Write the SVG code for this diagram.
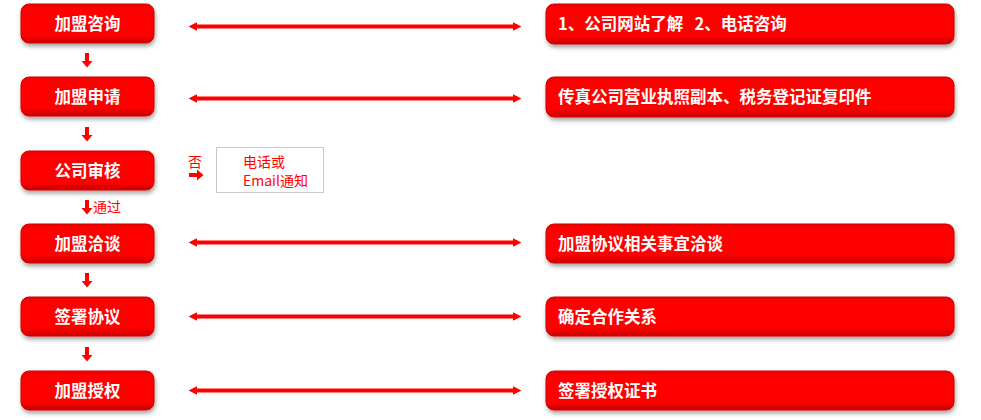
<svg xmlns="http://www.w3.org/2000/svg" width="981" height="420" viewBox="0 0 981 420">
<style>
.box{fill:url(#g);stroke:#d00000;stroke-width:1;filter:url(#sh)}
.t{font-family:"Noto Sans CJK SC","Liberation Sans",sans-serif;font-size:16.5px;font-weight:bold;fill:#fff}
.tl{text-anchor:middle}
.c{stroke:#ff0000;stroke-width:4;fill:none;marker-start:url(#ah);marker-end:url(#ah)}
.r{fill:#ff0000}
.s{font-family:"Noto Sans CJK SC","Liberation Sans",sans-serif;font-size:14px;fill:#ff0000}
</style>
<defs>
<linearGradient id="g" x1="0" y1="0" x2="0" y2="1">
<stop offset="0" stop-color="#f00000"/>
<stop offset="0.15" stop-color="#ff0000"/>
<stop offset="0.8" stop-color="#ff0000"/>
<stop offset="1" stop-color="#c80000"/>
</linearGradient>
<filter id="sh" x="-10%" y="-20%" width="120%" height="150%">
<feDropShadow dx="1" dy="3" stdDeviation="2" flood-color="#000" flood-opacity="0.35"/>
</filter>
<marker id="ah" viewBox="0 0 10 10" refX="5" refY="5" markerWidth="2.2" markerHeight="2.6" orient="auto-start-reverse" markerUnits="strokeWidth">
<path d="M0,0 L10,5 L0,10 Z" fill="#ff0000"/>
</marker>
</defs>
<rect width="981" height="420" fill="#fff"/>

<g id="connectors">
<line class="c" x1="193" y1="26.5" x2="517" y2="26.5"/>
<line class="c" x1="193" y1="98.5" x2="517" y2="98.5"/>
<line class="c" x1="193" y1="242.5" x2="517" y2="242.5"/>
<line class="c" x1="193" y1="316.5" x2="517" y2="316.5"/>
<line class="c" x1="193" y1="390.5" x2="517" y2="390.5"/>
<path class="r" d="M85,53 h4 v8 h3.5 l-5.5,6.5 l-5.5,-6.5 h3.5 z"/>
<path class="r" d="M85,127 h4 v8 h3.5 l-5.5,6.5 l-5.5,-6.5 h3.5 z"/>
<path class="r" d="M85,200 h4 v8 h3.5 l-5.5,6.5 l-5.5,-6.5 h3.5 z"/>
<path class="r" d="M85,273 h4 v8 h3.5 l-5.5,6.5 l-5.5,-6.5 h3.5 z"/>
<path class="r" d="M85,347 h4 v8 h3.5 l-5.5,6.5 l-5.5,-6.5 h3.5 z"/>
<path class="r" d="M189,173 h8 v-3.5 l6.5,5.5 l-6.5,5.5 v-3.5 h-8 z"/>
</g>

<g id="n1"><rect class="box" x="21" y="4" width="133" height="39" rx="8"/><text class="t tl" x="87.5" y="29.5">加盟咨询</text></g>
<g id="n2"><rect class="box" x="21" y="77" width="133" height="39" rx="8"/><text class="t tl" x="87.5" y="102.5">加盟申请</text></g>
<g id="n3"><rect class="box" x="21" y="151" width="133" height="39" rx="8"/><text class="t tl" x="87.5" y="176.5">公司审核</text></g>
<g id="n4"><rect class="box" x="21" y="224" width="133" height="39" rx="8"/><text class="t tl" x="87.5" y="249.5">加盟洽谈</text></g>
<g id="n5"><rect class="box" x="21" y="297" width="133" height="39" rx="8"/><text class="t tl" x="87.5" y="322.5">签署协议</text></g>
<g id="n6"><rect class="box" x="21" y="371" width="133" height="39" rx="8"/><text class="t tl" x="87.5" y="396.5">加盟授权</text></g>

<g id="r1"><rect class="box" x="546" y="4" width="408" height="40" rx="8"/><text class="t" x="558" y="29.5">1、公司网站了解&#160;&#160;&#160;2、电话咨询</text></g>
<g id="r2"><rect class="box" x="546" y="77" width="408" height="40" rx="8"/><text class="t" x="558" y="102.5">传真公司营业执照副本、税务登记证复印件</text></g>
<g id="r4"><rect class="box" x="546" y="224" width="408" height="39" rx="8"/><text class="t" x="558" y="249.5">加盟协议相关事宜洽谈</text></g>
<g id="r5"><rect class="box" x="546" y="297" width="408" height="39" rx="8"/><text class="t" x="558" y="322.5">确定合作关系</text></g>
<g id="r6"><rect class="box" x="546" y="371" width="408" height="39" rx="8"/><text class="t" x="558" y="396.5">签署授权证书</text></g>

<g id="notify"><rect x="216.5" y="147.5" width="107" height="45" fill="#fff" stroke="#c8c8c8" stroke-width="1"/><text class="s" x="243" y="167">电话或</text><text class="s" x="243" y="186">Email通知</text></g>
<text class="s" x="188" y="167">否</text>
<text class="s" x="93" y="212">通过</text>
</svg>
